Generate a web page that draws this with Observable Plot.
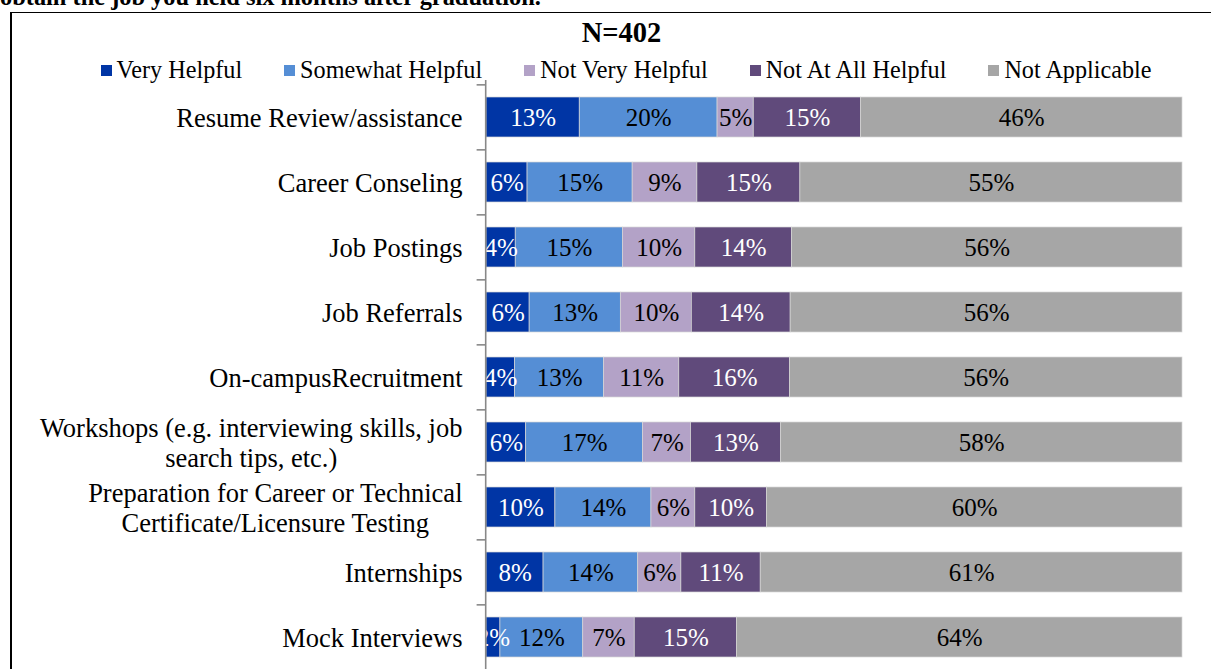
<!DOCTYPE html>
<html>
<head>
<meta charset="utf-8">
<script src="https://cdn.jsdelivr.net/npm/d3@7"></script>
<script src="https://cdn.jsdelivr.net/npm/@observablehq/plot@0.6"></script>
<style>
  html, body { margin: 0; padding: 0; background: white; }
  body { width: 1211px; height: 669px; overflow: hidden; position: relative; font-family: "Liberation Serif", "Times New Roman", serif; color: #000; }
  #lead { position: absolute; left: 0; top: -15px; font-size: 24.4px; line-height: 24px; font-weight: bold; white-space: nowrap; }
  #box { position: absolute; left: 10px; top: 12px; width: 1400px; height: 900px; border-top: 1.5px solid #000; border-left: 2px solid #000; box-sizing: border-box; }
  #title { position: absolute; left: 0; width: 1243px; top: 19px; text-align: center; font-size: 28.5px; line-height: 28.5px; font-weight: bold; white-space: nowrap; }
  #legend { position: absolute; left: 0; width: 1252px; top: 58px; display: flex; justify-content: center; font-size: 24.2px; line-height: 24px; white-space: nowrap; }
  #legend .item { margin: 0 21px; }
  #legend .sw { display: inline-block; width: 11px; height: 11px; margin-right: 5px; position: relative; top: -2px; }
  #chart { position: absolute; left: 0; top: 80px; }
  #chart svg text { font-family: "Liberation Serif", "Times New Roman", serif; }
</style>
</head>
<body>
<div id="lead">obtain the job you held six months after graduation.</div>
<div id="box"></div>
<div id="title"></div>
<div id="legend"></div>
<div id="chart"></div>
<script>
const titleText = "N=402";
const categories = [
  "Resume Review/assistance",
  "Career Conseling",
  "Job Postings",
  "Job Referrals",
  "On-campusRecruitment",
  "Workshops (e.g. interviewing skills, job\nsearch tips, etc.)",
  "Preparation for Career or Technical\nCertificate/Licensure Testing",
  "Internships",
  "Mock Interviews"
];
const series = ["Very Helpful", "Somewhat Helpful", "Not Very Helpful", "Not At All Helpful", "Not Applicable"];
const colors = ["#0035A5", "#558ED5", "#B3A2C7", "#604A7B", "#A6A6A6"];
const whiteLabelSeries = ["Very Helpful", "Not At All Helpful"];

const veryHelpful      = [13.4, 5.9, 4.2, 6.2, 4.1, 5.7, 9.9, 8.2, 2.0];
const somewhatHelpful  = [19.8, 15.1, 15.4, 13.1, 12.8, 16.8, 13.8, 13.6, 11.9];
const notVeryHelpful   = [5.2, 9.3, 10.4, 10.2, 10.8, 6.9, 6.3, 6.2, 7.4];
const notAtAllHelpful  = [15.4, 14.8, 13.9, 14.2, 15.9, 12.9, 10.3, 11.4, 14.7];
const notApplicable    = [46.2, 54.9, 56.1, 56.3, 56.4, 57.7, 59.7, 60.6, 64.0];
const seriesValues = [veryHelpful, somewhatHelpful, notVeryHelpful, notAtAllHelpful, notApplicable];

const data = [];
categories.forEach((c, i) => {
  seriesValues.forEach((vals, j) => {
    data.push({cat: c, series: series[j], value: vals[i]});
  });
});

document.getElementById("title").textContent = titleText;
const legend = document.getElementById("legend");
series.forEach((s, j) => {
  const item = document.createElement("span");
  item.className = "item";
  const sw = document.createElement("span");
  sw.className = "sw";
  sw.style.background = colors[j];
  item.appendChild(sw);
  item.appendChild(document.createTextNode(s));
  legend.appendChild(item);
});

const label = d => Math.round(d.value) + "%";
const isWhite = d => whiteLabelSeries.includes(d.series);
const serif = "Liberation Serif";

const chart = Plot.plot({
  width: 1211,
  height: 620,
  marginLeft: 486,
  marginRight: 29,
  marginTop: 0,
  marginBottom: 0,
  style: {background: "transparent", fontFamily: serif, color: "black"},
  x: {domain: [0, 100], axis: null},
  y: {domain: categories, range: [3.65, 591.35], paddingInner: 0.383, paddingOuter: 0.1915, axis: null},
  color: {domain: series, range: colors},
  marks: [
    Plot.barX(data, {x: "value", y: "cat", fill: "series", stroke: "#d6d6d6", strokeWidth: 0.7}),
    Plot.text(data, Plot.stackX({x: "value", y: "cat", z: "series", text: d => isWhite(d) ? label(d) : "", fill: "white", fontSize: 25, fontFamily: serif})),
    Plot.text(data, Plot.stackX({x: "value", y: "cat", z: "series", text: d => isWhite(d) ? "" : label(d), fill: "black", fontSize: 25, fontFamily: serif})),
    Plot.ruleX([0], {stroke: "#888888", strokeWidth: 1.6, dx: -0.8}),
    Plot.ruleY(categories, {y: d => d, x1: -1.35, x2: 0, dy: -32.65, stroke: "#888888", strokeWidth: 1.6}),
    Plot.text(categories, {x: 0, y: d => d, text: d => d, dx: -24, textAnchor: "end", fontSize: 26.5, lineHeight: 1.13, fill: "black", fontFamily: serif})
  ]
});
document.getElementById("chart").appendChild(chart);

// center the lines of multi-line category labels on each other
const textGroups = chart.querySelectorAll('g[aria-label="text"]');
const catGroup = textGroups[textGroups.length - 1];
catGroup.querySelectorAll("text").forEach(t => {
  const spans = Array.from(t.querySelectorAll("tspan"));
  if (spans.length > 1) {
    const ws = spans.map(s => s.getComputedTextLength());
    const m = Math.max(...ws);
    spans.forEach((s, i) => s.setAttribute("x", -(m - ws[i]) / 2));
  }
});
</script>
</body>
</html>
